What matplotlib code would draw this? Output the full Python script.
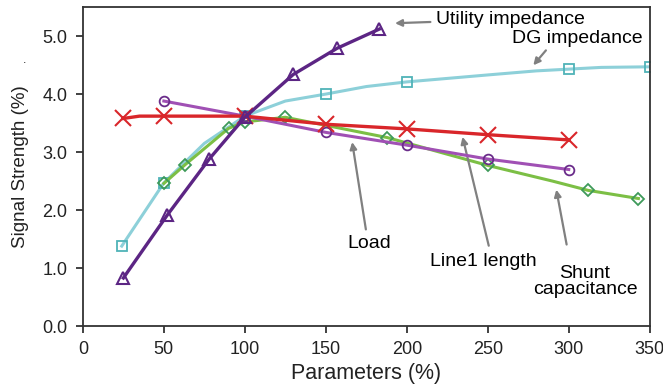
import matplotlib
matplotlib.use("Agg")
from matplotlib import pyplot as plt

plt.rcParams['font.family'] = ['Liberation Sans', 'DejaVu Sans']

# data
util_x = [25, 52, 78, 100, 130, 157, 183]
util_y = [0.83, 1.91, 2.88, 3.60, 4.34, 4.79, 5.12]

dg_x = [24, 50, 75, 100, 125, 150, 175, 200, 225, 250, 280, 300, 320, 350]
dg_y = [1.38, 2.47, 3.15, 3.62, 3.88, 4.00, 4.13, 4.21, 4.27, 4.33, 4.40, 4.43, 4.46, 4.47]
dg_marked = [0, 1, 3, 5, 7, 11, 13]

load_x = [25, 35, 50, 100, 150, 200, 250, 300]
load_y = [3.58, 3.62, 3.62, 3.62, 3.48, 3.40, 3.30, 3.21]
load_marked = [0, 2, 3, 4, 5, 6, 7]

line1_x = [50, 100, 150, 200, 250, 300]
line1_y = [3.88, 3.62, 3.34, 3.12, 2.88, 2.70]

shunt_x = [50, 63, 90, 100, 125, 188, 250, 290, 312, 343]
shunt_y = [2.46, 2.78, 3.41, 3.52, 3.60, 3.25, 2.77, 2.50, 2.34, 2.20]
shunt_marked = [0, 1, 2, 3, 4, 5, 6, 8, 9]

fig = plt.figure(figsize=(6.63, 3.92), dpi=100)
ax = fig.add_axes([0.125, 0.168, 0.855, 0.814])

ax.plot(dg_x, dg_y, color="#8dd0d9", lw=2.2, marker="s", ms=7, mfc="none",
        mec="#4fb3b8", mew=1.3, markevery=dg_marked, zorder=2)
ax.plot(shunt_x, shunt_y, color="#7cbf45", lw=2.2, marker="D", ms=6, mfc="none",
        mec="#3e9a5a", mew=1.3, markevery=shunt_marked, zorder=3)
ax.plot(line1_x, line1_y, color="#a050b4", lw=2.2, marker="o", ms=7, mfc="none",
        mec="#6a2c8a", mew=1.3, zorder=4)
ax.plot(load_x, load_y, color="#d9262a", lw=2.4, marker="x", ms=12, mew=1.5,
        markevery=load_marked, zorder=5)
ax.plot(util_x, util_y, color="#5c2584", lw=2.4, marker="^", ms=8, mfc="none",
        mec="#5c2584", mew=1.5, zorder=6)

arrow = dict(arrowstyle="-|>", color="#808080", lw=1.6, mutation_scale=10)
fs = 14
ax.annotate("Utility impedance", xy=(191, 5.22), xytext=(218, 5.29),
            fontsize=fs, va="center", ha="left", arrowprops=arrow)
ax.annotate("", xy=(277, 4.46), xytext=(287, 4.79), arrowprops=arrow)
ax.text(265, 4.95, "DG impedance", fontsize=fs, va="center", ha="left")
ax.annotate("", xy=(166, 3.22), xytext=(175, 1.62), arrowprops=arrow)
ax.text(177, 1.43, "Load", fontsize=fs, va="center", ha="center")
ax.annotate("", xy=(234, 3.31), xytext=(251, 1.34), arrowprops=arrow)
ax.text(247, 1.12, "Line1 length", fontsize=fs, va="center", ha="center")
ax.annotate("", xy=(292, 2.40), xytext=(299, 1.36), arrowprops=arrow)
ax.text(310, 0.77, "Shunt\ncapacitance", fontsize=fs, va="center", ha="center",
        linespacing=0.95)

ax.set_xlim(0, 350)
ax.set_ylim(0, 5.5)
ax.set_xticks(range(0, 351, 50))
ax.set_yticks([0, 1, 2, 3, 4, 5])
ax.set_yticklabels(["0.0", "1.0", "2.0", "3.0", "4.0", "5.0"])
ax.tick_params(direction="out", length=5, width=1.3, labelsize=13, colors="#333333",
               labelcolor="#222222", pad=6)
for s in ax.spines.values():
    s.set_linewidth(1.3)
    s.set_color("#333333")

ax.set_xlabel("Parameters (%)", fontsize=15.5, color="#222222", labelpad=3)
ax.set_ylabel("Signal Strength (%)", fontsize=13.5, color="#222222", labelpad=10)
fig.text(0.037, 0.84, ".", fontsize=9, color="#222222", ha="center")

fig.savefig("out.png", dpi=100)
